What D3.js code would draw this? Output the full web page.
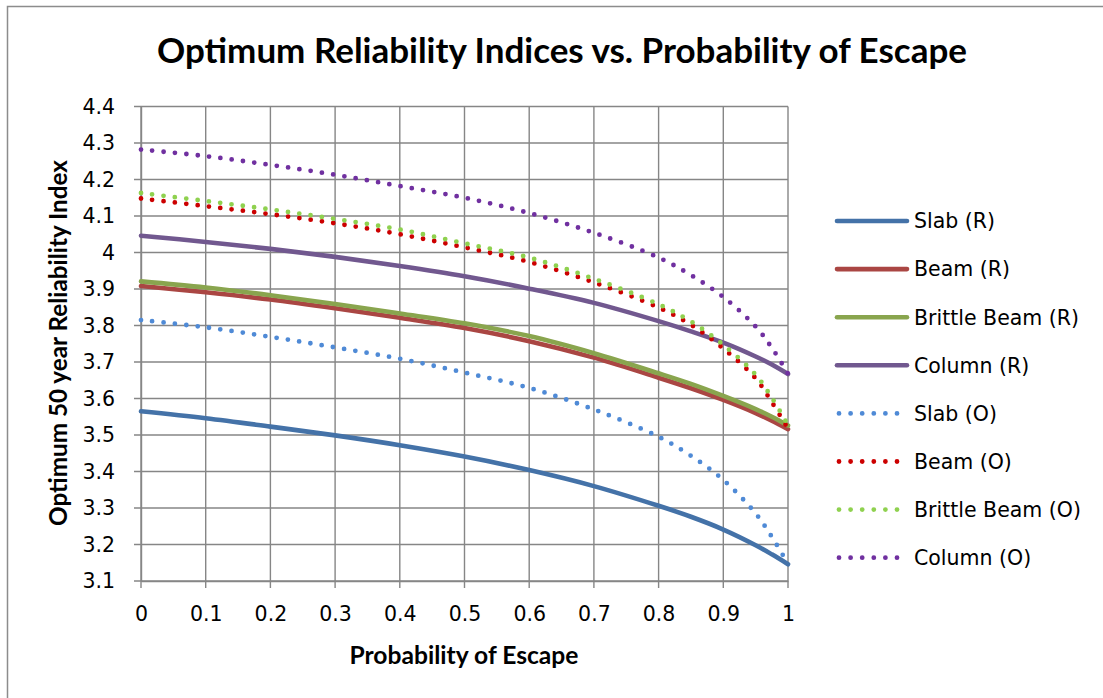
<!DOCTYPE html>
<html>
<head>
<meta charset="utf-8">
<script src="https://cdn.jsdelivr.net/npm/d3@7"></script>
<style>
  html, body { margin: 0; padding: 0; background: #fff; }
  svg { display: block; }
  text { font-family: Lato, "Open Sans", "Liberation Sans", sans-serif; fill: #000; }
</style>
</head>
<body>
<svg id="chart" width="1103" height="698"></svg>
<script>
// Probability of escape sample points
const escapeProb = [0, 0.1, 0.2, 0.3, 0.4, 0.5, 0.6, 0.7, 0.8, 0.85, 0.9, 0.95, 0.975, 1];

// Optimum 50-year reliability index for each member type
const slabR        = [3.565, 3.546, 3.523, 3.499, 3.472, 3.441, 3.404, 3.360, 3.306, 3.276, 3.241, 3.198, 3.173, 3.146];
const beamR        = [3.908, 3.891, 3.871, 3.847, 3.821, 3.793, 3.757, 3.712, 3.657, 3.628, 3.596, 3.560, 3.539, 3.516];
const brittleBeamR = [3.921, 3.904, 3.883, 3.859, 3.833, 3.806, 3.771, 3.724, 3.669, 3.640, 3.607, 3.571, 3.550, 3.526];
const columnR      = [4.046, 4.029, 4.010, 3.988, 3.963, 3.935, 3.901, 3.862, 3.812, 3.784, 3.753, 3.715, 3.693, 3.667];
const slabO        = [3.815, 3.795, 3.769, 3.740, 3.709, 3.671, 3.629, 3.570, 3.495, 3.443, 3.377, 3.285, 3.221, 3.147];
const beamO        = [4.148, 4.127, 4.105, 4.080, 4.050, 4.014, 3.974, 3.918, 3.849, 3.802, 3.737, 3.655, 3.590, 3.517];
const brittleBeamO = [4.163, 4.141, 4.118, 4.092, 4.063, 4.025, 3.986, 3.928, 3.858, 3.811, 3.747, 3.665, 3.602, 3.527];
const columnO      = [4.282, 4.264, 4.240, 4.213, 4.182, 4.150, 4.108, 4.054, 3.986, 3.938, 3.878, 3.797, 3.739, 3.668];

const seriesNames = ["Slab (R)", "Beam (R)", "Brittle Beam (R)", "Column (R)",
                     "Slab (O)", "Beam (O)", "Brittle Beam (O)", "Column (O)"];
const seriesValues = [slabR, beamR, brittleBeamR, columnR, slabO, beamO, brittleBeamO, columnO];

const xTicks = [0, 0.1, 0.2, 0.3, 0.4, 0.5, 0.6, 0.7, 0.8, 0.9, 1];
const yTicks = [3.1, 3.2, 3.3, 3.4, 3.5, 3.6, 3.7, 3.8, 3.9, 4.0, 4.1, 4.2, 4.3, 4.4];

const titleText = "Optimum Reliability Indices vs. Probability of Escape";
const xTitle = "Probability of Escape";
const yTitle = "Optimum 50 year Reliability Index";

// Styling per series
const colors = ["#4472a8", "#aa4643", "#89a54e", "#71588f",
                "#4f8ad6", "#cc0000", "#8fd14f", "#7030a0"];
const dotted = [false, false, false, false, true, true, true, true];

const svg = d3.select("#chart");
const W = 1103, H = 698;
const labelFont = "'DejaVu Sans', 'Open Sans', sans-serif";
const labelSize = "20.5px";

// Chart frame
svg.append("rect")
  .attr("x", 7.5).attr("y", 6.5)
  .attr("width", W + 20).attr("height", H + 20)
  .attr("fill", "#fff").attr("stroke", "#8c8c8c").attr("stroke-width", 1.5);

const plot = { left: 141, right: 788, top: 106.5, bottom: 581 };

const x = d3.scaleLinear().domain([0, 1]).range([plot.left, plot.right]);
const y = d3.scaleLinear().domain([3.1, 4.4]).range([plot.bottom, plot.top]);

const gridColor = "#868686";

// Horizontal gridlines
svg.append("g").selectAll("line").data(yTicks).join("line")
  .attr("x1", plot.left - 7).attr("x2", plot.right)
  .attr("y1", d => y(d)).attr("y2", d => y(d))
  .attr("stroke", gridColor).attr("stroke-width", 1.4);

// Vertical gridlines
svg.append("g").selectAll("line").data(xTicks).join("line")
  .attr("x1", d => x(d)).attr("x2", d => x(d))
  .attr("y1", plot.top).attr("y2", plot.bottom + 7)
  .attr("stroke", gridColor).attr("stroke-width", 1.4);

// Y axis via d3.axisLeft, then restyled
const yAxis = svg.append("g")
  .attr("transform", `translate(${plot.left},0)`)
  .call(d3.axisLeft(y).tickValues(yTicks)
    .tickFormat(d => d === 4 ? "4" : d3.format(".1f")(d))
    .tickSize(0).tickPadding(26));
yAxis.select(".domain").attr("stroke", gridColor).attr("stroke-width", 1.4);
yAxis.selectAll("text")
  .style("font-family", labelFont)
  .style("font-size", labelSize).attr("fill", "#000");

// X axis via d3.axisBottom
const xAxis = svg.append("g")
  .attr("transform", `translate(0,${plot.bottom})`)
  .call(d3.axisBottom(x).tickValues(xTicks)
    .tickFormat(d => d === 0 ? "0" : d === 1 ? "1" : d3.format(".1f")(d))
    .tickSize(0).tickPadding(25));
xAxis.select(".domain").attr("stroke", gridColor).attr("stroke-width", 1.4);
xAxis.selectAll("text")
  .style("font-family", labelFont)
  .style("font-size", labelSize).attr("fill", "#000");

// Series lines
const line = d3.line()
  .x((d, i) => x(escapeProb[i]))
  .y(d => y(d))
  .curve(d3.curveCatmullRom.alpha(0.5));

const order = [0, 1, 2, 3, 4, 5, 6, 7];
svg.append("g").selectAll("path").data(order).join("path")
  .attr("d", i => line(seriesValues[i]))
  .attr("fill", "none")
  .attr("stroke", i => colors[i])
  .attr("stroke-width", i => dotted[i] ? 4.8 : 4.6)
  .attr("stroke-linecap", "round")
  .attr("stroke-dasharray", i => dotted[i] ? "0 11.4" : null);

// Legend
const legend = svg.append("g");
const legY0 = 221, legStep = 48.1;
seriesNames.forEach((name, i) => {
  const ly = legY0 + i * legStep;
  legend.append("line")
    .attr("x1", dotted[i] ? 839 : 837).attr("x2", dotted[i] ? 900 : 907)
    .attr("y1", ly).attr("y2", ly)
    .attr("stroke", colors[i]).attr("stroke-width", dotted[i] ? 4.8 : 4.6)
    .attr("stroke-linecap", "round")
    .attr("stroke-dasharray", dotted[i] ? "0 11.6" : null);
  legend.append("text")
    .attr("x", 914).attr("y", ly)
    .attr("dy", "0.36em")
    .style("font-family", labelFont)
    .style("font-size", labelSize)
    .text(name);
});

// Fit a bold label to a given width by adjusting the font size
function fitText(sel, targetWidth) {
  let fs = parseFloat(sel.style("font-size"));
  const w = sel.node().getComputedTextLength();
  if (w > 0) sel.style("font-size", (fs * targetWidth / w) + "px");
}

// Title
const title = svg.append("text")
  .attr("x", 562).attr("y", 63)
  .attr("text-anchor", "middle")
  .style("font-weight", "bold").style("font-size", "28px")
  .text(titleText);
fitText(title, 810);

// Axis titles
const xt = svg.append("text")
  .attr("x", 464).attr("y", 664)
  .attr("text-anchor", "middle")
  .style("font-weight", "bold").style("font-size", "19px")
  .text(xTitle);
fitText(xt, 229);

const yt = svg.append("text")
  .attr("transform", `translate(67,343) rotate(-90)`)
  .attr("text-anchor", "middle")
  .style("font-weight", "bold").style("font-size", "19px")
  .text(yTitle);
fitText(yt, 366);
</script>
</body>
</html>
